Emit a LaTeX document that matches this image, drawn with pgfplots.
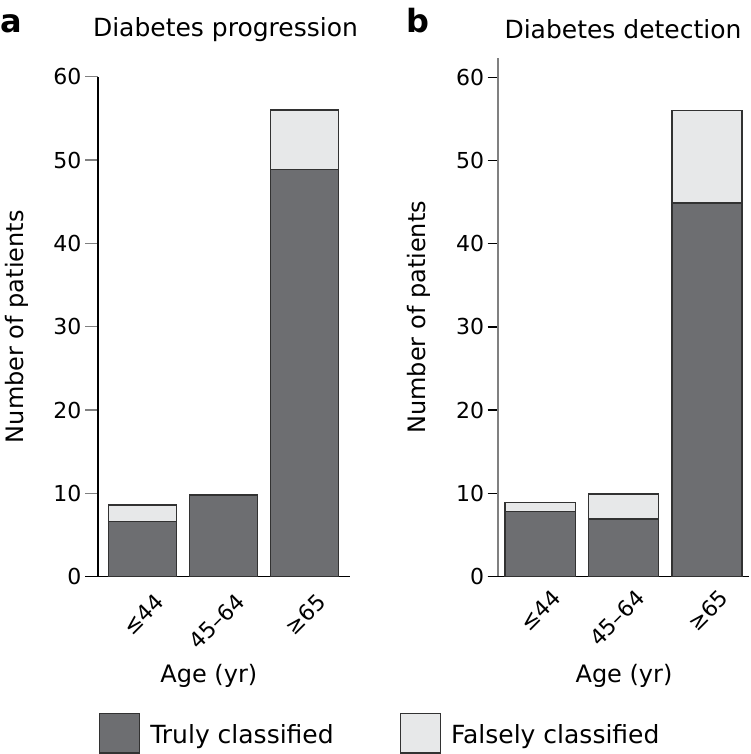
\documentclass[border=0pt]{standalone}
\usepackage{pgfplots}
\pgfplotsset{compat=1.18}
\usepackage{fontspec}
\setmainfont{DejaVu Sans}
\definecolor{dark}{RGB}{109,110,113}
\definecolor{light}{RGB}{231,232,233}
\definecolor{edge}{RGB}{50,50,50}
\definecolor{axgrey}{RGB}{128,128,128}

\pgfplotstableread{
x true false
0 6.6 2.0
1 9.8 0.0
2 48.9 7.1
}\progdata
\pgfplotstableread{
x true false
0 7.8 1.1
1 6.9 3.0
2 44.9 11.1
}\detdata

\pgfplotsset{
 panel/.style={
  scale only axis, anchor=south west,
  ybar stacked, bar width=0.84,
  axis x line*=bottom, axis y line*=left,
  ymin=0,
  xtick={0,1,2}, xticklabels={≤44,45–64,≥65},
  ytick={0,10,20,30,40,50,60}, yticklabels={0,10,20,30,40,50,60},
  tick align=outside,
  xtick style={draw=none},
  x tick label style={rotate=45, anchor=north east, xshift=10pt, yshift=-6pt, font=\fontsize{22}{26}\selectfont},
  y tick label style={font=\fontsize{22}{26}\selectfont},
  label style={font=\fontsize{24}{28}\selectfont},
  title style={font=\fontsize{25}{30}\selectfont, anchor=base},
  axis line style={line width=1.3pt},
  every axis plot/.append style={draw=edge, line width=1.2pt},
 }
}

\begin{document}
\begin{tikzpicture}
\path[use as bounding box] (0,0) rectangle (750pt,754pt);

\begin{axis}[panel,
  at={(98pt,177.3pt)}, width=252pt, height=500pt,
  xmin=-0.549, xmax=2.562, ymax=60,
  major tick length=13pt,
  ytick style={axgrey, line width=1.3pt},
  y axis line style={black, line width=1.3pt},
  x axis line style={black, line width=1.3pt, shorten <=-13pt},
  title={Diabetes progression},
  title style={at={(axis description cs:0.506,1.0674)}},
  xlabel={Age (yr)},
  xlabel style={at={(axis description cs:0.44,-0.2106)}, anchor=base},
  ylabel={Number of patients},
  ylabel style={at={(axis description cs:-0.2976,0.5)}, rotate=0, anchor=base},
  legend columns=2,
  legend style={draw=none, fill=none, at={(axis description cs:0.004,-0.3536)}, anchor=south west,
    inner sep=0pt, outer sep=0pt, font=\fontsize{25}{29}\selectfont,
    nodes={inner sep=0pt},
    /tikz/every odd column/.append style={column sep=10pt},
    /tikz/every even column/.append style={column sep=66pt}},
  legend image code/.code={\draw[#1, line width=1.3pt] (0pt,-18pt) rectangle (40pt,21.5pt);},
]
\addplot[fill=dark] table[x=x, y=true] {\progdata};
\addplot[fill=light] table[x=x, y=false] {\progdata};
\legend{Truly classified, Falsely classified}
\end{axis}

\begin{axis}[panel,
  at={(497.7pt,177.7pt)}, width=251.3pt, height=518pt,
  xmin=-0.507, xmax=2.503, ymax=62.3,
  major tick length=10pt,
  ytick style={black, line width=1.3pt},
  y axis line style={axgrey, line width=2pt},
  x axis line style={black, line width=1.3pt, shorten <=-10pt},
  title={Diabetes detection},
  title style={at={(axis description cs:0.4986,1.0257)}},
  xlabel={Age (yr)},
  xlabel style={at={(axis description cs:0.5026,-0.2054)}, anchor=base},
  ylabel={Number of patients},
  ylabel style={at={(axis description cs:-0.289,0.5)}, rotate=0, anchor=base},
]
\addplot[fill=dark] table[x=x, y=true] {\detdata};
\addplot[fill=light] table[x=x, y=false] {\detdata};
\end{axis}

\node[anchor=base west, inner sep=0pt, font=\fontsize{32}{36}\selectfont\bfseries] at (0pt,721pt) {a};
\node[anchor=base west, inner sep=0pt, font=\fontsize{32}{36}\selectfont\bfseries] at (406pt,721pt) {b};
\end{tikzpicture}
\end{document}
